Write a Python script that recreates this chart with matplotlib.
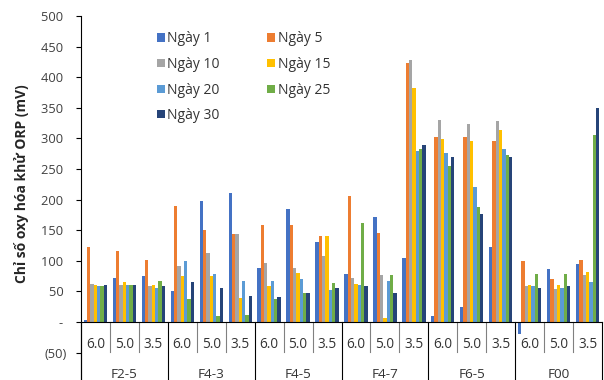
import matplotlib.pyplot as plt
import numpy as np

plt.rcParams['font.family'] = ['Open Sans', 'DejaVu Sans']

groups = ["F2-5", "F4-3", "F4-5", "F4-7", "F6-5", "F00"]
ph_levels = ["6.0", "5.0", "3.5"]
days = ["Ngày 1", "Ngày 5", "Ngày 10", "Ngày 15", "Ngày 20", "Ngày 25", "Ngày 30"]
colors = ["#4472C4", "#ED7D31", "#A5A5A5", "#FFC000", "#5B9BD5", "#70AD47", "#264478"]

# ORP (mV), group by group, pH 6.0 / 5.0 / 3.5 inside each group
day1 = [3, 72, 75, 50, 197, 210, 88, 184, 130, 79, 171, 105, 9, 25, 122, -20, 87, 95]
day5 = [122, 116, 101, 190, 151, 143, 158, 158, 140, 206, 145, 424, 302, 302, 296, 99, 70, 101]
day10 = [62, 61, 59, 91, 113, 143, 96, 89, 108, 72, 77, 428, 330, 323, 328, 59, 54, 77]
day15 = [61, 65, 60, 75, 75, 40, 59, 80, 140, 62, 6, 382, 299, 296, 314, 60, 60, 82]
day20 = [59, 60, 56, 100, 79, 67, 67, 70, 52, 60, 67, 280, 276, 221, 283, 59, 55, 66]
day25 = [59, 61, 67, 38, 9, 11, 38, 48, 63, 161, 77, 282, 255, 188, 273, 79, 79, 306]
day30 = [60, 61, 58, 66, 55, 42, 41, 48, 55, 58, 47, 289, 269, 177, 270, 55, 59, 349]
orp = [day1, day5, day10, day15, day20, day25, day30]

yticks = np.arange(-50, 501, 50)


def accounting(v):
    if v > 0:
        return f"{v} "
    if v == 0:
        return "- "
    return f"({-v})"


W, H = 604, 380
fig = plt.figure(figsize=(W / 100, H / 100), dpi=100)
ax = fig.add_axes([81 / W, 0, 521 / W, 364 / H])

n_slots = len(groups) * len(ph_levels)
x = np.arange(n_slots) + 0.5
bw = 0.115
bars = []
for i, vals in enumerate(orp):
    bars.append(ax.bar(x + (i - 3) * bw, vals, bw, color=colors[i],
                       label=days[i], zorder=2))

ylo = -94.8
ax.set_xlim(0, n_slots)
ax.set_ylim(ylo, 500)

ax.spines['top'].set_visible(False)
ax.spines['right'].set_visible(False)
ax.spines['left'].set_color('black')
ax.spines['left'].set_linewidth(0.8)
ax.spines['bottom'].set_position(('data', 0))
ax.spines['bottom'].set_color('black')
ax.spines['bottom'].set_linewidth(0.8)
ax.set_xticks([])

ax.set_yticks(yticks)
ax.set_yticklabels([accounting(v) for v in yticks])
ax.tick_params(axis='y', length=3.6, width=0.8, pad=6.5,
               labelsize=9.3, labelcolor='#404040')

# two-level category axis: pH under each slot, sample name under each group
for s in range(n_slots + 1):
    if s % 3 == 0:
        ax.plot([s, s], [0, ylo], color='black', lw=0.8, clip_on=False)
    else:
        ax.plot([s, s], [0, -49], color='#808080', lw=0.8)

for g, name in enumerate(groups):
    for k, ph in enumerate(ph_levels):
        ax.text(g * 3 + k + 0.5, -36, ph, ha='center', va='center',
                fontsize=9.8, color='#333333')
    ax.text(g * 3 + 1.5, -86, name, ha='center', va='center',
            fontsize=9.7, color='#333333')

fig.text(21.5 / W, 1 - 184 / H, "Chỉ số oxy hóa khử ORP (mV)",
         rotation=90, ha='center', va='center', fontsize=10,
         fontweight='bold', color='#262626')

order = [0, 2, 4, 6, 1, 3, 5]
ax.legend([bars[i] for i in order], [days[i] for i in order], ncol=2,
          frameon=False, loc='upper left', bbox_to_anchor=(157 / W, 1 - 31.5 / H),
          bbox_transform=fig.transFigure, borderpad=0, borderaxespad=0,
          handlelength=0.55, handleheight=0.55, handletextpad=0.2,
          columnspacing=3.4, labelspacing=0.76, fontsize=10,
          labelcolor='#333333')

fig.savefig("out.png", dpi=100)
